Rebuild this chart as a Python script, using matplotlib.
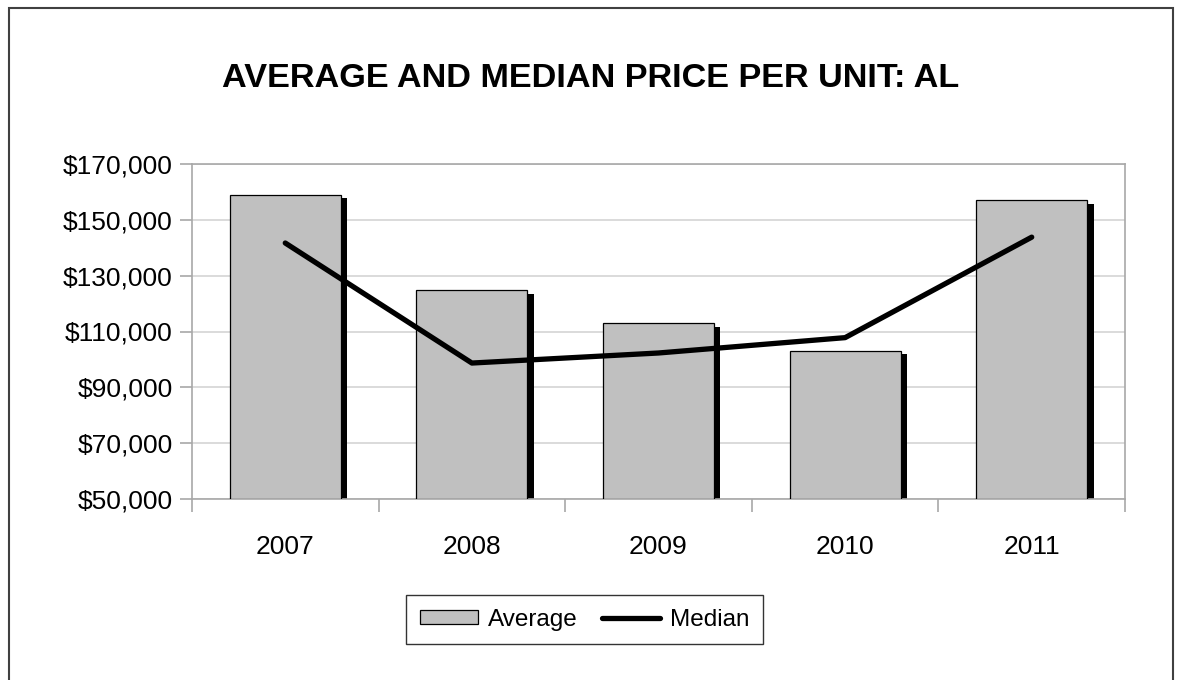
import numpy as np
import matplotlib.pyplot as plt
from matplotlib.patches import Rectangle
from matplotlib.ticker import FuncFormatter

plt.rcParams['font.family'] = ['Liberation Sans', 'DejaVu Sans']

# 数据
years = ['2007', '2008', '2009', '2010', '2011']
average = [159000, 124900, 113000, 103100, 157100]
median = [141700, 98700, 102300, 107800, 143800]

fig = plt.figure(figsize=(11.82, 6.8), dpi=100)
ax = fig.add_axes([0.1624, 0.2662, 0.7894, 0.4926])

x = np.arange(len(years))
bw = 0.595

# 阴影 (右下偏移)
ax.bar(x + 0.034, np.array(average) - 50000 - 1300, bw, bottom=50000,
       color='black', zorder=2)
bars = ax.bar(x, np.array(average) - 50000, bw, bottom=50000, color='#c0c0c0',
              edgecolor='black', linewidth=0.9, zorder=3, label='Average')
line, = ax.plot(x, median, color='black', lw=3.8, solid_capstyle='round',
                zorder=4, label='Median')

ax.set_xlim(-0.5, 4.5)
ax.set_ylim(50000, 170000)
ax.set_yticks(np.arange(50000, 170001, 20000))
ax.yaxis.set_major_formatter(FuncFormatter(lambda v, p: '${:,.0f}'.format(v)))
ax.grid(axis='y', color='#d4d4d4', lw=1.2, zorder=0)

ax.set_xticks(np.arange(-0.5, 4.6, 1.0))
ax.set_xticklabels([])
ax.set_xticks(x, minor=True)
ax.set_xticklabels(years, minor=True)
ax.tick_params(axis='x', which='major', length=9, color='#a8a8a8', width=1.2)
ax.tick_params(axis='x', which='minor', length=0, pad=26, labelsize=19)
ax.tick_params(axis='y', length=9, color='#a8a8a8', width=1.2, labelsize=19, pad=5)

for s in ax.spines.values():
    s.set_color('#a8a8a8')
    s.set_linewidth(1.2)

fig.text(0.5, 0.885, 'AVERAGE AND MEDIAN PRICE PER UNIT: AL', ha='center',
         va='center', fontsize=24.7, fontweight='bold')

leg = ax.legend([bars, line], ['Average', 'Median'], loc='center',
                bbox_to_anchor=(0.4207, -0.36), ncol=2, frameon=True,
                fancybox=False, edgecolor='black', fontsize=17.5, handlelength=2.4,
                handleheight=0.5, handletextpad=0.4, columnspacing=1.0,
                borderpad=0.55, borderaxespad=0)
leg.get_frame().set_linewidth(1.0)

# 外框
fig.patches.append(Rectangle((9 / 1182, -0.05), (1173 - 9) / 1182, 1.05 - 8 / 680,
                             transform=fig.transFigure, fill=False,
                             edgecolor='#404040', lw=1.5))

fig.savefig('out.png', dpi=100)
